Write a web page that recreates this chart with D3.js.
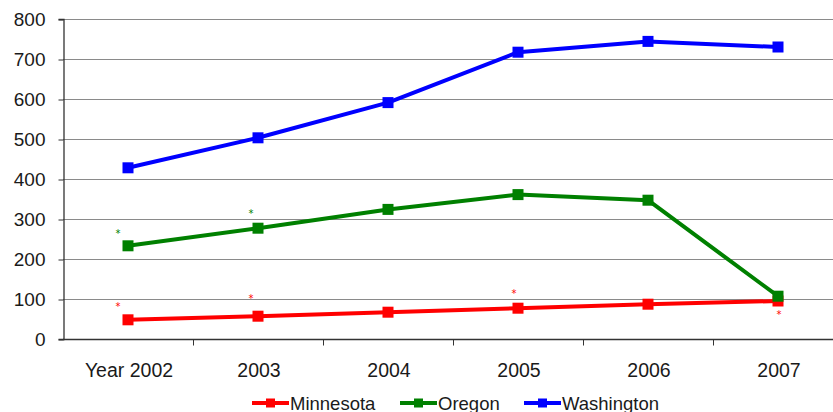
<!DOCTYPE html>
<html>
<head>
<meta charset="utf-8">
<script src="https://cdn.jsdelivr.net/npm/d3@7"></script>
<style>
  html, body { margin: 0; padding: 0; background: #fff; }
  svg { display: block; }
</style>
</head>
<body>
<svg id="chart" width="833" height="412"></svg>
<script>
// Categories and series
const years = ["Year 2002", "2003", "2004", "2005", "2006", "2007"];
const minnesota = [48, 57, 67, 77, 87, 95];
const oregon = [233, 277, 324, 361, 347, 107];
const washington = [428, 503, 591, 717, 744, 730];
const yTicks = [0, 100, 200, 300, 400, 500, 600, 700, 800];

// Small asterisk notes: series, category index, value
const noteSeries = ["Oregon", "Oregon", "Minnesota", "Minnesota", "Minnesota", "Minnesota"];
const noteYear = [0, 1, 0, 1, 3, 5];
const noteValue = [266, 314, 82, 102, 115, 62];
const noteShift = [-10, -7, -10, -7, -4, 1];

const seriesNames = ["Minnesota", "Oregon", "Washington"];
const seriesColors = ["#ff0000", "#008000", "#0000ff"];
const seriesValues = [minnesota, oregon, washington];

const svg = d3.select("#chart");
const margin = { left: 63, top: 19, right: -10, bottom: 73 };
const W = 833, H = 412;
const font = "Liberation Sans, Arial, sans-serif";

const x = d3.scaleBand().domain(years).range([margin.left, W - margin.right]);
const y = d3.scaleLinear().domain([0, 800]).range([H - margin.bottom, margin.top]);

// Horizontal gridlines
svg.append("g")
  .selectAll("line")
  .data(yTicks.filter(d => d > 0))
  .join("line")
  .attr("x1", margin.left).attr("x2", W)
  .attr("y1", d => y(d) + 0.5).attr("y2", d => y(d) + 0.5)
  .attr("stroke", "#8a8a8a").attr("stroke-width", 1.2);

// Y axis
const yAxis = svg.append("g")
  .attr("transform", `translate(${margin.left + 0.5},0)`)
  .call(d3.axisLeft(y).tickValues(yTicks).tickSize(5).tickPadding(13));
yAxis.select(".domain").attr("stroke", "#333").attr("stroke-width", 1.3);
yAxis.selectAll(".tick line").attr("stroke", "#333").attr("transform", "translate(0,0.5)");
yAxis.selectAll("text")
  .attr("font-family", font)
  .attr("font-size", 19).attr("fill", "#1a1a1a");

// X axis with ticks at category boundaries
const xAxisG = svg.append("g")
  .attr("transform", `translate(0,${y(0) + 0.5})`);
xAxisG.append("line")
  .attr("x1", margin.left).attr("x2", W)
  .attr("stroke", "#333").attr("stroke-width", 1.3);
xAxisG.selectAll("line.tk")
  .data(years.slice(1))
  .join("line")
  .attr("class", "tk")
  .attr("x1", d => x(d) + 0.5).attr("x2", d => x(d) + 0.5)
  .attr("y1", 0).attr("y2", 6)
  .attr("stroke", "#333");
xAxisG.selectAll("text")
  .data(years)
  .join("text")
  .attr("x", d => x(d) + x.bandwidth() / 2 + 1)
  .attr("y", 37)
  .attr("text-anchor", "middle")
  .attr("font-family", font)
  .attr("font-size", 19.5).attr("fill", "#1a1a1a")
  .text(d => d);

// Series lines and markers
const cx = i => x(years[i]) + x.bandwidth() / 2;
const line = d3.line().x((d, i) => cx(i)).y(d => y(d));

seriesValues.forEach((vals, s) => {
  const g = svg.append("g");
  g.append("path")
    .datum(vals)
    .attr("d", line)
    .attr("fill", "none")
    .attr("stroke", seriesColors[s])
    .attr("stroke-width", 4)
    .attr("stroke-linejoin", "round");
  g.selectAll("rect")
    .data(vals)
    .join("rect")
    .attr("x", (d, i) => cx(i) - 5.5)
    .attr("y", d => y(d) - 5.5)
    .attr("width", 11).attr("height", 11)
    .attr("fill", seriesColors[s]);
});

// Asterisk notes
svg.append("g")
  .selectAll("text")
  .data(noteValue)
  .join("text")
  .attr("x", (d, i) => cx(noteYear[i]) + noteShift[i])
  .attr("y", d => y(d) + 4)
  .attr("text-anchor", "middle")
  .attr("font-family", "DejaVu Sans, sans-serif")
  .attr("font-size", 10)
  .attr("fill", (d, i) => seriesColors[seriesNames.indexOf(noteSeries[i])])
  .text("*");

// Legend
const legendX = [252, 400, 524];
const legend = svg.append("g").attr("transform", "translate(0,403)");
seriesNames.forEach((name, s) => {
  const g = legend.append("g").attr("transform", `translate(${legendX[s]},0)`);
  g.append("line")
    .attr("x1", 0).attr("x2", 37)
    .attr("stroke", seriesColors[s]).attr("stroke-width", 4);
  g.append("rect")
    .attr("x", 14).attr("y", -4.5).attr("width", 9).attr("height", 9)
    .attr("fill", seriesColors[s]);
  g.append("text")
    .attr("x", 38).attr("y", 6.5)
    .attr("font-family", font)
    .attr("font-size", 18.5).attr("fill", "#1a1a1a")
    .text(name);
});
</script>
</body>
</html>
